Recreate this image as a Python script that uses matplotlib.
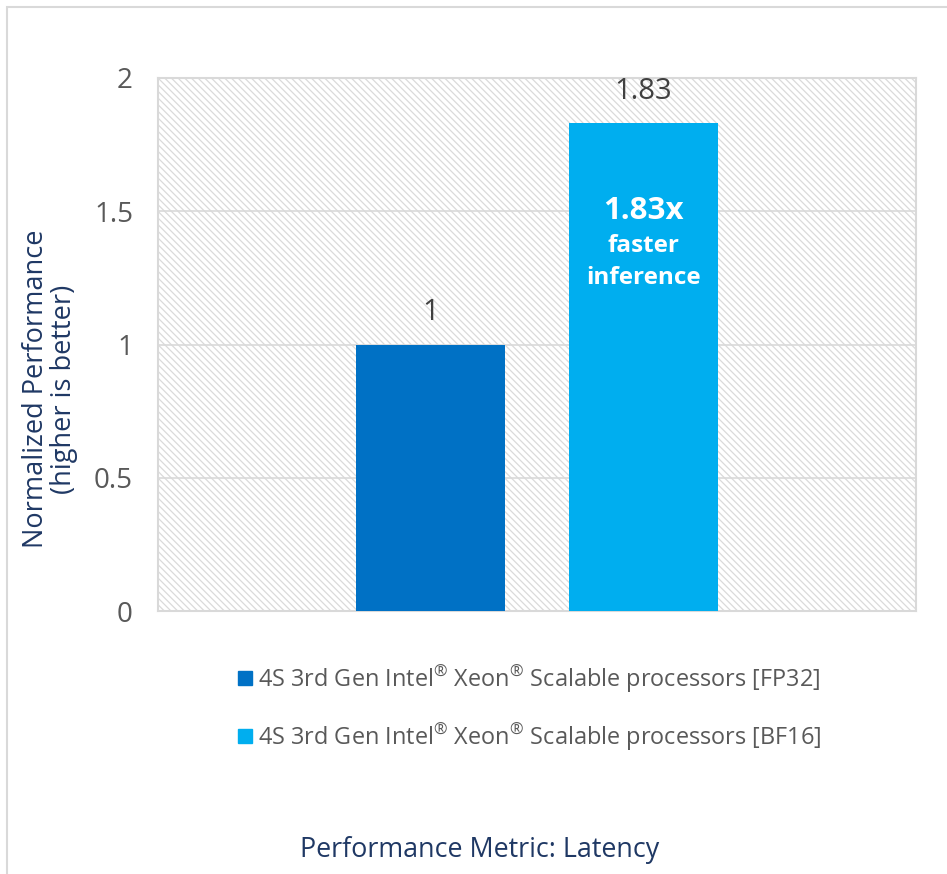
import matplotlib.pyplot as plt
from matplotlib.patches import Rectangle
from matplotlib.lines import Line2D

# data
series = ['4S 3rd Gen Intel$^{®}$ Xeon$^{®}$ Scalable processors [FP32]',
          '4S 3rd Gen Intel$^{®}$ Xeon$^{®}$ Scalable processors [BF16]']
values = [1.0, 1.83]
value_labels = ['1', '1.83']
colors = ['#0071C5', '#00AEEF']
yticks = [0, 0.5, 1, 1.5, 2]
ytick_labels = ['0', '0.5', '1', '1.5', '2']

plt.rcParams['font.family'] = ['Open Sans', 'DejaVu Sans']
plt.rcParams['mathtext.fontset'] = 'custom'
plt.rcParams['mathtext.rm'] = 'Open Sans'
plt.rcParams['mathtext.it'] = 'Open Sans'
plt.rcParams['hatch.linewidth'] = 0.9
grey_txt = '#595959'
navy = '#1F3864'
light = '#D9D9D9'

fig = plt.figure(figsize=(9.47, 8.74), dpi=100)
ax = fig.add_axes([158/947, 1-611/874, 758/947, 533/874])

# hatched plot area
ax.add_patch(Rectangle((0, 0), 1, 1, transform=ax.transAxes, facecolor='white',
                       edgecolor='#DADADA', hatch='\\\\\\\\\\', lw=0, zorder=0))

width = 0.1966
offsets = [-0.1405, 0.1405]
for i in range(len(values)):
    ax.bar(offsets[i], values[i], width=width, color=colors[i], zorder=3, label=series[i])
    ax.annotate(value_labels[i], (offsets[i], values[i]), xytext=(0, 23),
                textcoords='offset points', ha='center', va='center',
                fontsize=21, color='#404040')

# callout inside BF16 bar
ax.text(offsets[1], values[1] - 0.33, '1.83x', ha='center', va='center',
        fontsize=22.5, fontweight='bold', color='white', zorder=4)
ax.text(offsets[1], values[1] - 0.46, 'faster', ha='center', va='center',
        fontsize=17.5, fontweight='bold', color='white', zorder=4)
ax.text(offsets[1], values[1] - 0.58, 'inference', ha='center', va='center',
        fontsize=17.5, fontweight='bold', color='white', zorder=4)

ax.set_xlim(-0.5, 0.5)
ax.set_ylim(0, 2)
ax.set_yticks(yticks)
ax.set_yticklabels(ytick_labels, fontsize=20, color=grey_txt)
ax.set_xticks([])
ax.tick_params(axis='y', length=0, pad=18)
ax.grid(axis='y', color=light, lw=1.2, zorder=1)
ax.set_axisbelow(True)
for s in ax.spines.values():
    s.set_color(light)
    s.set_linewidth(1.5)

fig.text(50/947, 1-389/874, 'Normalized Performance\n(higher is better)', rotation=90,
         ha='center', va='center', multialignment='center', fontsize=19.5, color=navy,
         linespacing=1.0)
fig.text(480/947, 1-850/874, 'Performance Metric: Latency', ha='center', va='center',
         fontsize=19.4, color=navy)

handles = [Line2D([], [], marker='s', ls='none', markersize=10, color=c) for c in colors]
leg = fig.legend(handles, series, loc='center', bbox_to_anchor=(527/947, 1-708/874),
                 frameon=False, fontsize=16.9, labelspacing=1.15, handletextpad=0.05,
                 handlelength=1.0)
for t in leg.get_texts():
    t.set_color(grey_txt)

# chart border
fig.patches.append(Rectangle((7/947, -0.05), 1.1, 1-7/874+0.05, transform=fig.transFigure,
                             fill=False, edgecolor=light, lw=1.5))

fig.savefig('out.png', dpi=100)
